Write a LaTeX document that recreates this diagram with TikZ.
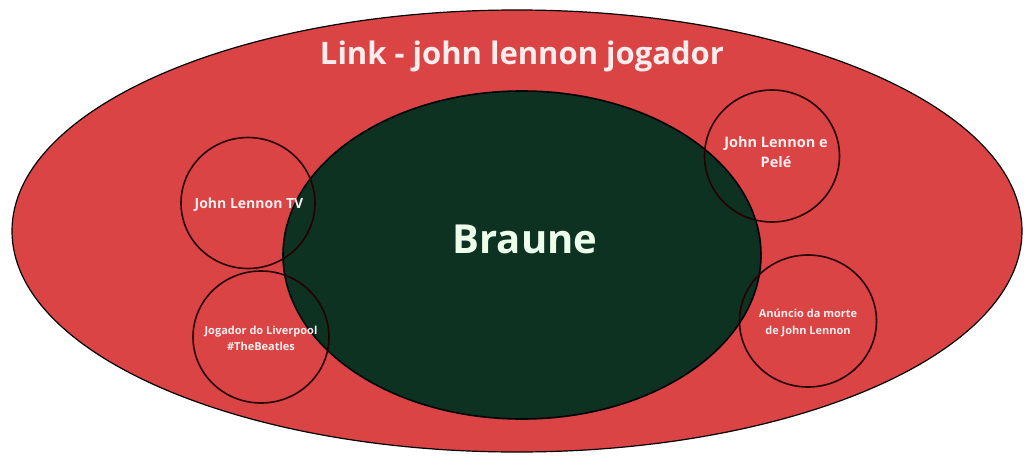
\documentclass[tikz,border=0pt]{standalone}
\usepackage{fontspec}
\setmainfont{Open Sans}
\usetikzlibrary{shapes.geometric}
\definecolor{setred}{HTML}{DA4444}
\definecolor{coregreen}{HTML}{0E3222}
\definecolor{paletext}{HTML}{FBEDED}
\tikzset{
  outerset/.style={ellipse, draw=black, line width=1.2pt, fill=setred, inner sep=0pt},
  coreset/.style={ellipse, draw=black, line width=1.6pt, fill=coregreen, inner sep=0pt},
  subset/.style={ellipse, draw=black!85!red, line width=1.6pt, inner sep=0pt,
                 text=paletext, align=center, font=\bfseries\fontsize{11}{16}\selectfont},
}
\begin{document}
\begin{tikzpicture}[x=1pt, y=-1pt]
  \useasboundingbox[fill=white] (0,0) rectangle (1033,455);
  % outer red set
  \node[outerset, minimum width=1010pt, minimum height=442pt] (outer) at (517,231) {};
  % central dark set
  \node[coreset, minimum width=478pt, minimum height=328pt] (core) at (522,255) {};
  % title and central label
  \node[text=paletext, font=\bfseries\fontsize{31}{36}\selectfont] (title) at (522,56) {Link - john lennon jogador};
  \node[text=white!92!green, font=\bfseries\fontsize{40}{46}\selectfont] (braune) at (525,239) {Braune};
  % overlapping subsets
  \node[subset, minimum width=134pt, minimum height=131pt, font=\bfseries\fontsize{14}{16}\selectfont] (tv) at (248,203) {};
  \node[text=paletext, font=\bfseries\fontsize{14}{16}\selectfont] (tvlabel) at (249,205) {John Lennon TV};
  \node[subset, minimum width=136pt, minimum height=132pt] (liverpool) at (261,337) {};
  \node[text=paletext, align=center, font=\bfseries\fontsize{11}{16}\selectfont] (liverpoollabel) at (261,338) {Jogador do Liverpool\\\#TheBeatles};
  \node[subset, minimum width=135pt, minimum height=132pt] (pele) at (772,156) {};
  \node[text=paletext, align=center, font=\bfseries\fontsize{14.5}{20}\selectfont] (pelelabel) at (776,152) {John Lennon e\\Pelé};
  \node[subset, minimum width=137pt, minimum height=132pt] (morte) at (808,321) {};
  \node[text=paletext, align=center, font=\bfseries\fontsize{11}{17}\selectfont] (mortelabel) at (808,323) {Anúncio da morte\\de John Lennon};
\end{tikzpicture}
\end{document}
